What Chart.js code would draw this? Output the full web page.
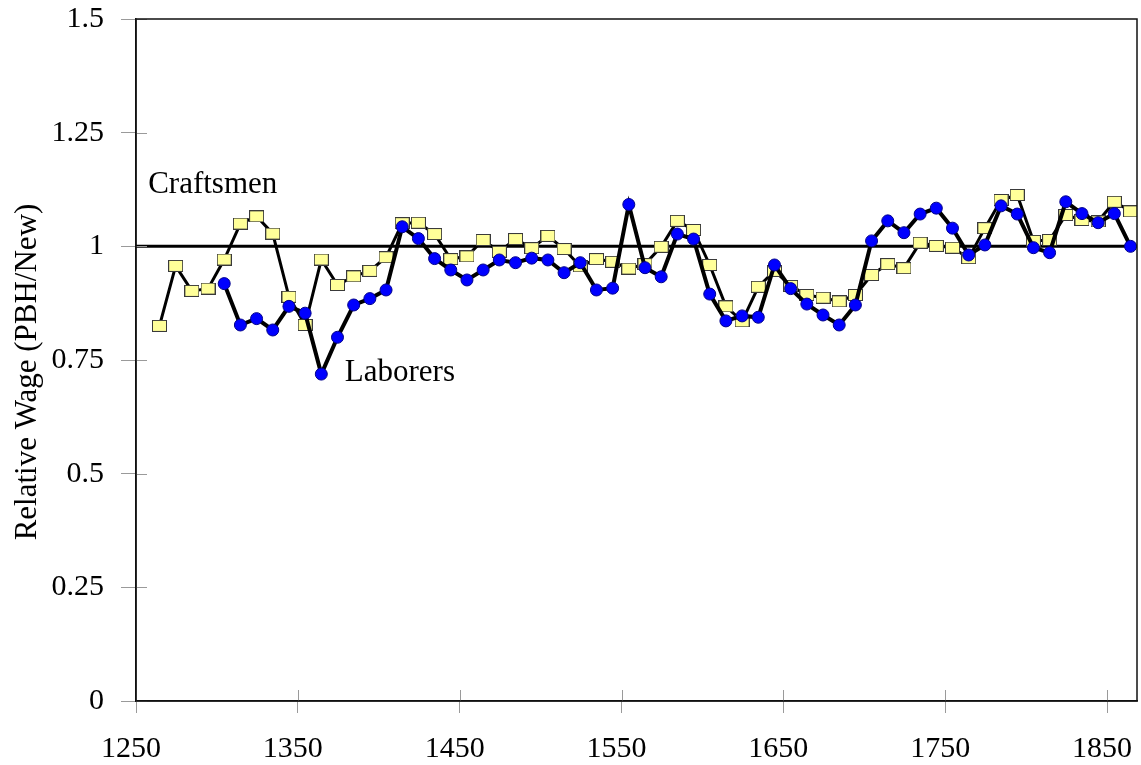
<!DOCTYPE html>
<html>
<head>
<meta charset="utf-8">
<script src="https://cdn.jsdelivr.net/npm/chart.js@4/dist/chart.umd.min.js"></script>
<style>
  html, body { margin: 0; padding: 0; background: #fff; }
  #wrap { width: 1141px; height: 765px; }
</style>
</head>
<body>
<div id="wrap"><canvas id="myChart" width="1141" height="765"></canvas></div>
<script>
// decade midpoints
let years = [1264.5, 1274.5, 1284.5, 1294.5, 1304.5, 1314.5, 1324.5, 1334.5, 1344.5, 1354.5,
  1364.5, 1374.5, 1384.5, 1394.5, 1404.5, 1414.5, 1424.5, 1434.5, 1444.5, 1454.5,
  1464.5, 1474.5, 1484.5, 1494.5, 1504.5, 1514.5, 1524.5, 1534.5, 1544.5, 1554.5,
  1564.5, 1574.5, 1584.5, 1594.5, 1604.5, 1614.5, 1624.5, 1634.5, 1644.5, 1654.5,
  1664.5, 1674.5, 1684.5, 1694.5, 1704.5, 1714.5, 1724.5, 1734.5, 1744.5, 1754.5,
  1764.5, 1774.5, 1784.5, 1794.5, 1804.5, 1814.5, 1824.5, 1834.5, 1844.5, 1854.5, 1864.5];

let craftsmen = [0.825, 0.957, 0.902, 0.907, 0.971, 1.050, 1.066, 1.028, 0.889, 0.827,
  0.971, 0.915, 0.934, 0.946, 0.976, 1.051, 1.052, 1.027, 0.972, 0.978,
  1.014, 0.988, 1.016, 0.996, 1.023, 0.994, 0.956, 0.972, 0.966, 0.951,
  0.961, 0.999, 1.056, 1.036, 0.959, 0.868, 0.835, 0.911, 0.946, 0.913,
  0.893, 0.887, 0.879, 0.893, 0.937, 0.961, 0.952, 1.008, 1.001, 0.997,
  0.974, 1.040, 1.102, 1.113, 1.012, 1.014, 1.069, 1.058, 1.055, 1.098, 1.077];

let laborers = [null, null, null, null, 0.918, 0.827, 0.841, 0.816, 0.868, 0.853,
  0.719, 0.800, 0.871, 0.885, 0.904, 1.043, 1.017, 0.973, 0.948, 0.926,
  0.948, 0.970, 0.964, 0.974, 0.970, 0.942, 0.964, 0.904, 0.908, 1.092,
  0.953, 0.933, 1.027, 1.016, 0.895, 0.836, 0.847, 0.844, 0.959, 0.907,
  0.873, 0.849, 0.827, 0.871, 1.012, 1.056, 1.030, 1.071, 1.084, 1.040,
  0.981, 1.003, 1.089, 1.071, 0.997, 0.986, 1.098, 1.072, 1.052, 1.072, 1.000];

let xTicks = [1250, 1350, 1450, 1550, 1650, 1750, 1850];
let xMin = 1250, xMax = 1868.5;
let referenceLevel = 1;

// series labels placed on the plot (data coords of the text's left baseline)
let seriesLabels = [
  { text: 'Craftsmen', x: 1257.5, y: 1.118 },
  { text: 'Laborers', x: 1379, y: 0.704 }
];

const FONT = "'Liberation Serif', 'Times New Roman', serif";

let toPoints = (vals) => years.map((yr, i) => ({ x: yr, y: vals[i] }));

// little yellow box used as the craftsmen marker
let makeBox = (w, h) => {
  let c = document.createElement('canvas');
  c.width = w; c.height = h;
  let g = c.getContext('2d');
  g.fillStyle = '#FFFF99';
  g.fillRect(0, 0, w, h);
  g.strokeStyle = '#3a3a3a';
  g.lineWidth = 1;
  g.strokeRect(0.5, 0.5, w - 1, h - 1);
  return c;
};
let box = makeBox(15, 12);

// frame, crossing tick marks, in-plot labels, y title
const extras = {
  id: 'extras',
  afterDraw(chart) {
    let ctx = chart.ctx;
    let a = chart.chartArea;
    let xs = chart.scales.x, ys = chart.scales.y;
    ctx.save();
    // inner halves of the tick marks
    ctx.strokeStyle = '#9a9a9a';
    ctx.lineWidth = 1;
    ctx.beginPath();
    xTicks.forEach((v) => {
      let px = Math.round(xs.getPixelForValue(v)) + 0.5;
      ctx.moveTo(px, a.bottom);
      ctx.lineTo(px, a.bottom - 11);
    });
    ys.ticks.forEach((t) => {
      let py = Math.round(ys.getPixelForValue(t.value)) + 0.5;
      ctx.moveTo(a.left, py);
      ctx.lineTo(a.left + 11, py);
    });
    ctx.stroke();
    // frame
    ctx.strokeStyle = '#111';
    ctx.lineWidth = 1.5;
    ctx.strokeRect(a.left, a.top, a.right - a.left, a.bottom - a.top);

    ctx.fillStyle = '#000';
    ctx.font = '31px ' + FONT;
    ctx.textAlign = 'left';
    ctx.textBaseline = 'alphabetic';
    seriesLabels.forEach((l) => {
      ctx.fillText(l.text, xs.getPixelForValue(l.x), ys.getPixelForValue(l.y));
    });

    // y axis title
    ctx.translate(28, 372);
    ctx.rotate(-Math.PI / 2);
    ctx.textAlign = 'center';
    ctx.textBaseline = 'middle';
    ctx.fillText('Relative Wage (PBH/New)', 0, 0);
    ctx.restore();
  }
};

new Chart(document.getElementById('myChart'), {
  type: 'line',
  data: {
    datasets: [
      {
        label: 'Laborers',
        data: toPoints(laborers),
        borderColor: '#000',
        borderWidth: 4,
        pointRadius: 6,
        pointBackgroundColor: '#0000FF',
        pointBorderColor: '#00008B',
        pointBorderWidth: 1,
        tension: 0,
        order: 1
      },
      {
        label: 'Craftsmen',
        data: toPoints(craftsmen),
        borderColor: '#000',
        borderWidth: 3,
        pointStyle: box,
        pointRadius: 7,
        tension: 0,
        order: 2
      },
      {
        label: 'ref',
        data: [{ x: xMin, y: referenceLevel }, { x: xMax, y: referenceLevel }],
        borderColor: '#000',
        borderWidth: 3,
        pointRadius: 0,
        order: 3
      }
    ]
  },
  options: {
    responsive: false,
    devicePixelRatio: 1,
    animation: false,
    events: [],
    layout: { autoPadding: false, padding: { top: 19, right: 4, left: 0, bottom: 0 } },
    plugins: {
      legend: { display: false },
      tooltip: { enabled: false },
      title: { display: false }
    },
    scales: {
      x: {
        type: 'linear',
        min: xMin,
        max: xMax,
        afterBuildTicks: (axis) => { axis.ticks = xTicks.map((v) => ({ value: v })); },
        afterFit: (axis) => {
          axis.height = 64;
          axis.paddingLeft = 0;
          axis.paddingRight = 0;
        },
        grid: { drawOnChartArea: false, drawTicks: true, tickLength: 12, tickColor: '#9a9a9a' },
        border: { display: true, color: '#111', width: 1.5 },
        ticks: {
          color: '#000',
          font: { family: FONT, size: 30 },
          padding: 18,
          labelOffset: -5,
          maxRotation: 0,
          autoSkip: false,
          callback: (v) => String(v)
        }
      },
      y: {
        min: 0,
        max: 1.5,
        afterFit: (axis) => {
          axis.width = 136;
          axis.paddingTop = 0;
          axis.paddingBottom = 0;
        },
        grid: { drawOnChartArea: false, drawTicks: true, tickLength: 15, tickColor: '#9a9a9a' },
        border: { display: true, color: '#111', width: 1.5 },
        ticks: {
          stepSize: 0.25,
          color: '#000',
          font: { family: FONT, size: 30 },
          padding: 17,
          callback: (v) => String(v)
        }
      }
    }
  },
  plugins: [extras]
});
</script>
</body>
</html>
